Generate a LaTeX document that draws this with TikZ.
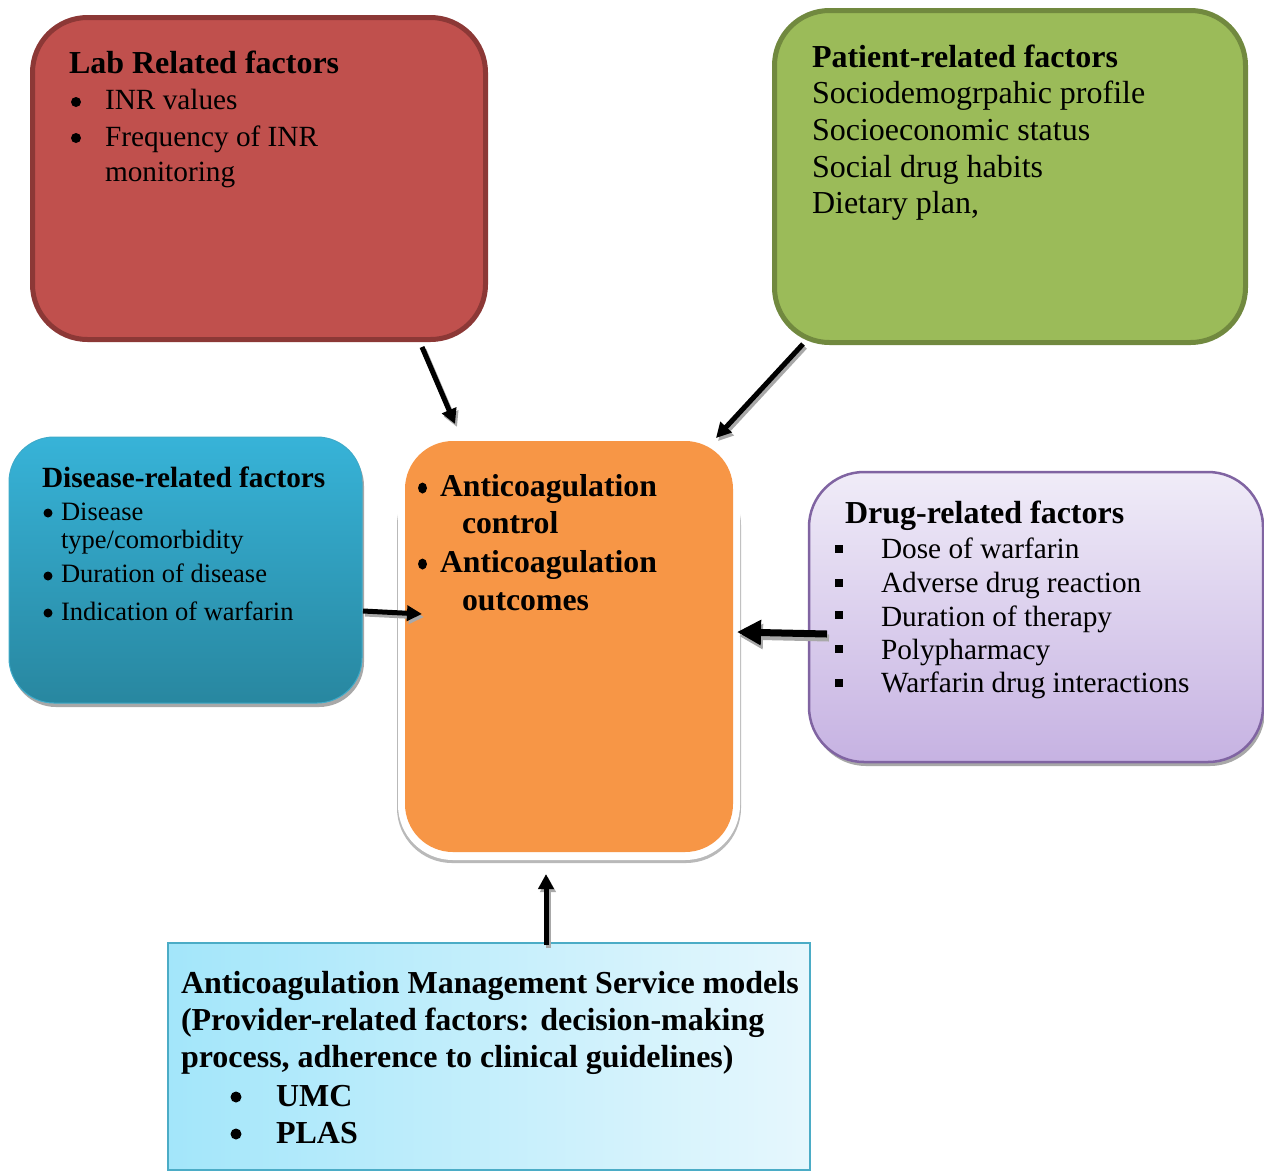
\documentclass[tikz,border=0pt]{standalone}
\usepackage{fontspec}
\setmainfont{Liberation Serif}
\usetikzlibrary{arrows.meta}
\definecolor{labfill}{HTML}{C0504D}
\definecolor{labline}{HTML}{8C3836}
\definecolor{patfill}{HTML}{9BBB59}
\definecolor{patline}{HTML}{71893F}
\definecolor{distop}{HTML}{37B3D8}
\definecolor{disbot}{HTML}{2887A0}
\definecolor{disline}{HTML}{3EAAC9}
\definecolor{orangefill}{HTML}{F79646}
\definecolor{drugtop}{HTML}{F0ECF8}
\definecolor{drugbot}{HTML}{C6B2E2}
\definecolor{drugline}{HTML}{8064A2}
\definecolor{amsleft}{HTML}{A3E6FA}
\definecolor{amsright}{HTML}{E6F7FD}
\definecolor{amsline}{HTML}{4BACC6}
\definecolor{shadowgray}{HTML}{A8A8A8}
\begin{document}
\begin{tikzpicture}[x=1pt,y=-1pt,
  box/.style={rectangle, rounded corners=55pt, inner sep=0pt, outer sep=0pt},
  ln/.style={anchor=base west, inner sep=0pt, outer sep=0pt},
  tb/.style={ln, font=\fontsize{32}{38}\selectfont\bfseries},
  tr/.style={ln, font=\fontsize{32}{38}\selectfont},
  ti/.style={ln, font=\fontsize{29.3}{35}\selectfont},
  tbs/.style={ln, font=\fontsize{29.3}{35}\selectfont\bfseries},
  tds/.style={ln, font=\fontsize{26.5}{32}\selectfont},
  arr/.style={line width=5pt, -{Triangle[length=15pt,width=15pt]}},
  bigarr/.style={line width=7pt, -{Triangle[length=24pt,width=24pt]}},
  shd/.style={draw=shadowgray},
]
\useasboundingbox (0,0) rectangle (1264,1171);
\fill[white] (0,0) rectangle (1264,1171);

% ---------- Lab box ----------
\node[box, fill=labfill, draw=labline, line width=5pt,
      minimum width=453pt, minimum height=322pt] (lab) at (259,178.5) {};
\node[tb] (labT) at (69,73) {Lab Related factors};
\fill (76,102) circle (5pt);
\fill (76,138) circle (5pt);
\node[ti] (labI1) at (105,109) {INR values};
\node[ti] (labI2) at (105,146) {Frequency of INR};
\node[ti] (labI3) at (105,181) {monitoring};

% ---------- Patient box ----------
\node[box, fill=patfill, draw=patline, line width=5pt,
      minimum width=471pt, minimum height=332pt] (pat) at (1010,176.5) {};
\node[tb] (patT) at (812,67) {Patient-related factors};
\node[tr] (patI1) at (812,103) {Sociodemogrpahic profile};
\node[tr] (patI2) at (812,140) {Socioeconomic status};
\node[tr] (patI3) at (812,177) {Social drug habits};
\node[tr] (patI4) at (812,213) {Dietary plan,};

% ---------- Disease box ----------
\fill[shadowgray, rounded corners=45pt] (11,441) rectangle (364,707);
\node[box, rounded corners=45pt, top color=distop, bottom color=disbot,
      draw=disline, line width=1pt,
      minimum width=353pt, minimum height=266pt] (dis) at (185.5,570) {};
\node[tbs] (disT) at (42,487) {Disease-related factors};
\fill (48,513) circle (4.5pt);
\fill (48,576) circle (4.5pt);
\fill (48,613) circle (4.5pt);
\node[tds] (disI1) at (61,520) {Disease};
\node[tds] (disI2) at (61,548) {type/comorbidity};
\node[tds] (disI3) at (61,582) {Duration of disease};
\node[tds] (disI4) at (61,620) {Indication of warfarin};

% ---------- Centre box ----------
\fill[shadowgray!80, rounded corners=55pt] (397,470) rectangle (741,863);
\fill[white, rounded corners=55pt] (398,434) rectangle (740,860);
\node[box, rounded corners=48pt, fill=orangefill,
      minimum width=328pt, minimum height=411pt] (ctr) at (569,646.5) {};
\fill (422.5,488) ellipse (4.5pt and 5.5pt);
\fill (422.5,564) ellipse (4.5pt and 5.5pt);
\node[ln, font=\fontsize{31.75}{38}\selectfont\bfseries] (ctrI1) at (440,496) {Anticoagulation};
\node[ln, font=\fontsize{31.75}{38}\selectfont\bfseries] (ctrI2) at (462,533) {control};
\node[ln, font=\fontsize{31.75}{38}\selectfont\bfseries] (ctrI3) at (440,572) {Anticoagulation};
\node[ln, font=\fontsize{31.75}{38}\selectfont\bfseries] (ctrI4) at (462,610) {outcomes};

% ---------- Drug box ----------
\fill[shadowgray, rounded corners=55pt] (811,476) rectangle (1265,766);
\node[box, top color=drugtop, bottom color=drugbot, draw=drugline, line width=2.5pt,
      minimum width=454pt, minimum height=290pt] (drug) at (1036,617) {};
\node[tb] (drugT) at (845,523) {Drug-related factors};
\foreach \yy in {549,583,615,649,683} {\fill (835,\yy-4) rectangle ++(8,8);}
\node[ti] (drugI1) at (881,558) {Dose of warfarin};
\node[ti] (drugI2) at (881,592) {Adverse drug reaction};
\node[ti] (drugI3) at (881,626) {Duration of therapy};
\node[ti] (drugI4) at (881,659) {Polypharmacy};
\node[ti] (drugI5) at (881,692) {Warfarin drug interactions};

% ---------- AMS box ----------
\node[rectangle, inner sep=0pt, left color=amsleft, right color=amsright,
      draw=amsline, line width=2pt,
      minimum width=642pt, minimum height=227pt] (ams) at (489,1056.5) {};
\node[tb] (amsT1) at (181,993) {Anticoagulation Management Service models};
\node[tb] (amsT2) at (181,1030) {(Provider-related factors: decision-making};
\node[tb] (amsT3) at (181,1067) {process, adherence to clinical guidelines)};
\fill (236,1097) circle (5.5pt);
\fill (236,1134) circle (5.5pt);
\node[tb] (amsI1) at (276,1106) {UMC};
\node[tb] (amsI2) at (276,1143) {PLAS};

% ---------- connectors ----------
\coordinate (labS) at (422,347);  \coordinate (labE) at (455,424);
\coordinate (patS) at (803,344);  \coordinate (patE) at (716,438);
\coordinate (disS) at (363,611);  \coordinate (disE) at (422,614);
\coordinate (drugS) at (827,634); \coordinate (drugE) at (737,632);
\coordinate (amsS) at (546,945);  \coordinate (amsE) at (546,874);

\draw[arr, shd] ([shift={(2,3)}]labS) -- ([shift={(2,3)}]labE);
\draw[arr] (labS) -- (labE);
\draw[arr, shd] ([shift={(2,3)}]patS) -- ([shift={(2,3)}]patE);
\draw[arr] (patS) -- (patE);
\draw[arr, shd] ([shift={(2,3)}]disS) -- ([shift={(2,3)}]disE);
\draw[arr] (disS) -- (disE);
\draw[bigarr, shd] ([shift={(2,4)}]drugS) -- ([shift={(2,4)}]drugE);
\draw[bigarr] (drugS) -- (drugE);
\draw[arr, shd] ([shift={(2,3)}]amsS) -- ([shift={(2,3)}]amsE);
\draw[arr] (amsS) -- (amsE);
\end{tikzpicture}
\end{document}
